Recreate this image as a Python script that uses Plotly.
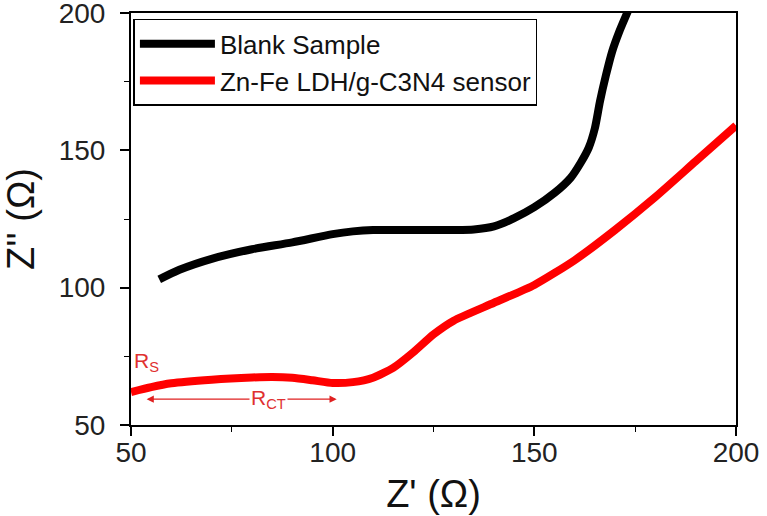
import plotly.graph_objects as go

# Data
blank_x = [57, 62, 70, 80, 90, 100, 105, 110, 120, 130, 135, 140, 145, 150, 155, 159, 161.5, 163.5, 165, 166.3, 167.7, 169.3, 171, 173.3]
blank_y = [103, 106.5, 110.5, 114, 116.5, 119.5, 120.5, 121, 121, 121, 121.2, 122.3, 125.3, 129.3, 134.5, 140, 145.5, 151, 158, 168, 177, 186, 193, 201]

sensor_x = [50, 55, 60, 70, 80, 85, 90, 95, 100, 105, 110, 115, 120, 125, 130, 140, 150, 160, 170, 180, 190, 200]
sensor_y = [62, 63.8, 65.2, 66.5, 67.3, 67.5, 67.2, 66.3, 65.3, 65.6, 67.2, 70.8, 76.5, 83, 88, 94.5, 101, 110, 121, 133, 146, 159]

x_ticks = [50, 100, 150, 200]
y_ticks = [50, 100, 150, 200]

FONT = "Liberation Sans, Arial, sans-serif"

fig = go.Figure()
fig.add_trace(go.Scatter(x=blank_x, y=blank_y, mode="lines", name="Blank Sample",
                         line=dict(color="black", width=8, shape="spline", smoothing=0.7)))
fig.add_trace(go.Scatter(x=sensor_x, y=sensor_y, mode="lines", name="Zn-Fe LDH/g-C3N4 sensor",
                         line=dict(color="#ff0000", width=8, shape="spline", smoothing=0.6)))

# R_CT double arrow
fig.add_annotation(x=101, y=59.4, ax=53.5, ay=59.4, xref="x", yref="y", axref="x", ayref="y",
                   text="", showarrow=True, arrowhead=2, arrowside="end+start",
                   arrowsize=1.2, arrowwidth=1.2, arrowcolor="#e02020")
fig.add_annotation(x=84, y=59.4, xref="x", yref="y", text="R<sub>CT</sub>", showarrow=False,
                   bgcolor="white", font=dict(family=FONT, size=21, color="#e03030"))
fig.add_annotation(x=53.8, y=72.8, xref="x", yref="y", text="R<sub>S</sub>", showarrow=False,
                   font=dict(family=FONT, size=21, color="#e03030"))

axis_common = dict(showline=True, linecolor="black", linewidth=2, mirror=True,
                   ticks="outside", ticklen=9, tickwidth=1.5, tickcolor="black",
                   showgrid=False, zeroline=False, ticklabeloverflow="allow",
                   tickfont=dict(family=FONT, size=28, color="#222"),
                   minor=dict(ticks="outside", ticklen=5, tickwidth=1.2, tickcolor="black", dtick=25))

fig.update_layout(
    width=767, height=516,
    margin=dict(l=131, r=31, t=13, b=91),
    plot_bgcolor="white", paper_bgcolor="white",
    xaxis=dict(range=[50, 200], tickvals=x_ticks, ticklabelstandoff=-8, automargin=False,
               title=dict(text="Z' (Ω)", font=dict(family=FONT, size=38, color="#111"), standoff=14),
               **axis_common),
    yaxis=dict(range=[50, 200], tickvals=y_ticks, ticklabelstandoff=9, automargin=False,
               title=dict(text="Z'' (Ω)", font=dict(family=FONT, size=38, color="#111"), standoff=19),
               **axis_common),
    legend=dict(x=0.004, y=0.986, xanchor="left", yanchor="top",
                bordercolor="black", borderwidth=1.5, bgcolor="white",
                font=dict(family=FONT, size=26, color="#111"),
                tracegroupgap=0, itemwidth=75),
    showlegend=True,
)

fig.write_html("out.html", config={"displayModeBar": False},
               post_script="document.body.style.margin='0';document.body.style.overflow='hidden';")
